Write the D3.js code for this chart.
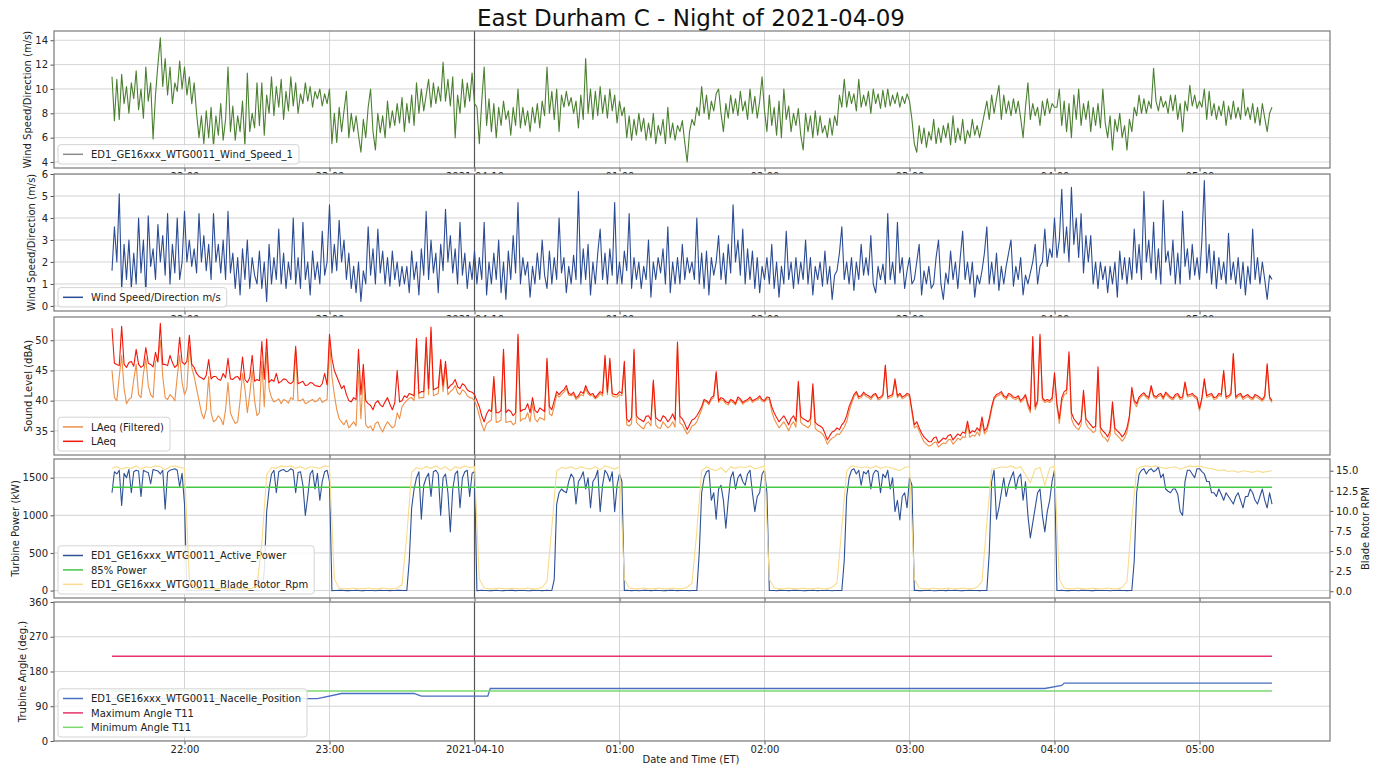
<!DOCTYPE html>
<html><head><meta charset="utf-8">
<script src="https://cdn.jsdelivr.net/npm/d3@7"></script>
<style>body{margin:0;background:#fff}</style>
</head><body>
<svg id="c" width="1380" height="769"></svg>
<script>
const chartTitle = "East Durham C - Night of 2021-04-09";
const startTime = new Date(2021,3,9,21,30);
const xDomain = [new Date(2021,3,9,21,6), new Date(2021,3,10,5,54)];
const xTickTimes = [new Date(2021,3,9,22),new Date(2021,3,9,23),new Date(2021,3,10,0),new Date(2021,3,10,1),new Date(2021,3,10,2),new Date(2021,3,10,3),new Date(2021,3,10,4),new Date(2021,3,10,5)];
const midnight = new Date(2021,3,10,0);

// 1-minute samples from 21:30
const windSpeed1 = [
 11.0,7.4,10.8,7.5,11.2,8.8,10.2,8.0,10.5,9.2,11.5,8.3,10.0,7.6,11.8,9.0,10.5,5.9,9.5,12.0,14.2,10.2,12.5,9.5,11.8,8.8,10.5,9.8,12.3,10.0,11.8,
 9.5,11.0,8.8,10.5,8.0,6.0,7.8,5.5,8.2,6.0,8.5,5.3,7.8,6.2,8.8,5.8,7.5,11.8,6.5,8.6,5.8,7.8,6.5,9.0,5.3,11.3,6.5,8.0,6.8,10.5,
 7.0,10.5,6.2,9.5,8.0,11.0,7.8,10.2,8.5,10.8,7.5,9.8,8.2,11.0,8.6,10.5,8.0,9.6,8.8,10.5,9.0,10.2,8.5,9.8,9.2,10.0,8.6,9.6,8.8,10.0,
 5.5,8.0,5.6,8.5,6.5,8.2,9.8,6.0,8.0,6.5,7.8,6.2,4.8,7.5,6.0,8.5,10.0,6.5,5.0,8.0,6.4,7.8,6.0,9.0,6.8,8.2,7.0,8.8,7.2,9.3,
 6.5,8.8,7.2,9.5,7.0,10.5,8.0,10.0,8.2,9.5,10.8,8.5,10.5,8.8,10.2,9.0,12.2,9.0,10.8,8.6,11.0,6.0,9.5,8.0,10.8,8.5,10.5,9.0,11.3,8.8,
 8.5,5.5,9.0,11.8,7.0,9.2,6.5,8.8,6.0,8.5,7.0,9.0,7.5,8.2,6.2,8.5,7.0,10.0,6.8,8.5,7.0,8.2,6.5,8.5,7.2,8.8,6.8,9.0,7.8,11.8,
 8.0,9.8,7.5,10.0,6.5,9.5,8.5,9.8,8.6,9.3,8.0,9.0,6.8,9.5,7.5,12.5,8.0,10.0,7.5,9.8,7.8,10.2,8.0,9.5,7.6,10.0,8.2,9.5,7.2,9.0,
 7.8,8.5,6.0,7.8,5.8,7.5,6.2,8.0,6.5,7.6,5.8,7.2,6.0,8.0,5.5,7.0,6.2,7.5,5.5,8.5,6.0,7.2,5.8,7.0,6.5,7.4,5.6,4.0,6.5,7.5,
 7.0,8.5,7.8,10.2,8.0,9.5,7.5,9.0,8.2,9.6,10.0,8.0,6.5,8.8,7.6,9.5,8.0,9.2,7.8,9.8,8.2,9.0,7.5,10.0,8.0,9.4,7.6,9.0,11.0,8.2,
 6.5,9.5,7.0,8.5,6.2,9.0,6.0,10.0,7.5,8.6,6.5,8.0,7.0,8.4,6.2,5.0,8.0,6.5,7.8,6.0,8.2,6.2,7.8,6.4,7.0,6.0,7.6,6.2,7.8,7.0,
 9.5,8.5,10.8,8.5,9.8,8.8,9.6,8.2,10.8,8.5,9.5,8.6,9.8,8.0,10.0,8.8,9.6,8.4,9.9,8.5,10.0,8.6,9.5,8.8,9.7,8.5,9.4,8.8,9.6,9.0,
 7.5,5.5,4.8,7.0,5.5,6.8,5.2,6.5,5.8,7.5,5.5,6.8,5.6,7.0,6.0,7.2,5.4,7.8,5.6,6.8,5.8,7.5,5.5,6.6,6.0,7.5,6.2,7.0,6.0,7.0,
 8.0,9.0,7.5,9.5,8.0,9.2,10.3,7.5,9.5,8.0,9.0,7.8,9.2,8.0,9.0,7.6,6.0,8.5,10.5,7.5,8.8,7.8,8.5,7.0,9.0,7.8,9.2,8.0,8.8,8.5,
 8.5,10.0,7.0,9.0,6.5,8.8,6.0,9.5,7.5,10.0,7.0,8.8,7.5,9.0,6.5,8.5,7.0,8.8,6.8,10.0,7.2,6.0,7.8,5.0,7.5,6.5,8.0,6.0,7.0,5.0,
 7.5,6.5,8.5,7.8,9.5,8.0,9.2,8.0,9.0,8.4,11.7,9.0,8.2,9.4,8.5,9.0,8.0,9.5,8.2,9.5,7.5,8.8,6.5,9.0,8.2,10.3,8.6,9.5,8.4,9.0,
 8.5,10.0,7.5,9.8,7.8,8.8,7.5,8.6,7.8,9.0,7.0,8.6,7.5,9.0,7.6,8.5,7.5,10.0,7.8,8.5,7.5,8.8,7.2,8.5,7.0,8.8,7.6,6.5,8.0,8.5];

const windSpeedMet = [
 1.6,3.6,2.0,5.1,0.7,2.8,1.2,3.0,0.8,2.4,1.0,4.0,1.5,3.0,0.5,4.1,1.8,2.6,1.2,3.7,2.0,3.2,1.4,4.2,1.0,2.8,1.5,4.0,1.2,2.0,4.3,
 2.0,3.0,1.8,2.6,1.5,4.2,2.0,3.2,1.6,2.8,1.2,4.2,2.0,2.8,1.5,3.0,1.2,4.3,1.5,2.4,0.8,2.2,0.5,2.6,1.2,3.0,0.8,2.2,1.4,1.0,
 2.5,0.8,2.0,0.2,2.8,1.0,2.2,1.2,3.5,1.0,2.4,0.8,2.0,1.2,4.0,1.0,2.2,0.8,3.8,1.2,2.0,0.5,2.5,1.2,2.0,1.0,3.4,1.4,2.0,4.6,
 1.5,2.8,1.6,3.9,2.0,3.0,1.2,2.4,0.8,1.8,0.6,2.0,0.2,1.6,1.0,3.6,1.4,2.6,1.0,3.5,1.5,2.5,1.0,2.2,0.9,2.5,1.2,2.0,0.9,1.8,
 1.0,1.8,0.6,2.5,1.2,2.0,0.5,2.6,1.4,4.3,1.2,3.0,1.5,2.4,0.6,2.8,1.6,4.4,2.0,3.2,1.5,2.6,1.0,3.8,1.4,2.4,0.8,2.0,1.2,2.5,
 1.0,2.2,1.2,3.8,0.5,2.0,1.0,2.4,1.2,3.0,0.6,2.0,0.3,2.5,1.2,3.2,1.5,4.7,1.0,2.2,1.4,2.0,0.4,1.8,1.0,2.4,1.2,3.0,1.4,0.8,
 2.5,1.0,2.2,1.2,4.0,1.5,2.2,0.6,1.8,1.0,2.3,1.2,5.2,1.0,2.6,1.2,2.8,0.5,2.0,1.0,2.4,3.5,1.2,2.4,1.0,2.6,1.4,4.7,1.0,2.0,
 1.0,2.5,1.6,4.2,0.8,2.2,1.2,2.0,0.8,1.8,1.2,3.0,0.4,2.0,1.2,2.2,1.5,2.6,1.0,3.6,0.6,2.0,1.0,2.2,1.0,2.8,1.2,2.2,1.5,2.0,
 1.2,4.0,1.0,2.4,0.8,2.5,0.5,2.2,1.4,2.0,3.2,1.2,2.4,1.0,2.8,1.5,4.6,2.0,3.0,1.4,3.5,1.0,2.6,1.2,2.5,0.8,2.2,0.6,1.8,1.2,
 2.2,1.0,2.8,0.8,2.0,0.4,1.8,1.0,3.4,1.2,2.0,0.8,2.2,1.0,2.0,1.2,3.0,1.0,2.2,0.5,1.8,1.2,2.0,0.9,2.5,1.0,1.8,0.3,1.4,1.6,
 2.4,3.6,1.2,2.0,1.0,2.2,0.7,2.0,1.2,2.8,1.4,2.2,1.4,3.2,1.0,0.6,1.8,1.2,1.9,1.0,4.2,1.2,2.0,1.0,3.8,1.5,2.2,0.8,1.6,2.2,
 1.0,1.2,2.0,2.8,0.5,1.6,1.0,1.8,0.8,1.0,2.2,3.0,1.0,0.3,1.5,1.0,2.5,1.2,2.0,0.8,2.2,3.4,1.2,2.0,1.0,2.0,0.4,1.4,1.0,1.6,
 2.4,3.6,1.0,2.0,1.0,2.4,0.7,1.8,1.0,1.8,2.4,3.0,0.9,1.8,1.2,2.2,0.5,1.4,1.0,1.5,2.0,2.8,1.0,1.8,2.0,3.5,1.8,2.6,2.2,4.0,
 2.2,3.0,5.3,2.4,3.6,2.0,5.4,2.8,4.0,2.2,4.2,1.5,3.2,2.0,3.2,1.0,2.0,0.8,2.0,1.2,1.8,0.6,1.8,1.0,2.0,0.4,2.5,1.2,2.2,1.0,
 2.2,1.2,3.5,1.5,2.8,1.2,5.2,2.0,3.0,1.5,3.8,1.2,2.6,1.0,4.8,2.0,2.5,1.4,3.0,1.0,2.4,1.0,4.3,1.8,2.6,1.2,2.8,1.4,2.2,1.2,
 3.0,5.7,1.5,2.8,1.0,2.5,0.8,2.2,1.2,2.0,1.0,3.3,1.2,2.0,1.0,2.2,0.8,2.0,0.5,1.8,1.0,3.5,1.2,2.2,1.0,2.0,1.2,0.3,1.4,1.2];

const laeqFiltered = [
 45.0,40.5,40.0,44.0,47.5,42.0,39.5,40.2,40.5,43.5,46.0,41.0,40.5,44.5,47.0,42.5,41.0,40.5,46.5,47.0,50.0,44.0,40.5,40.2,41.0,40.6,40.0,44.0,47.5,43.0,41.0,
 42.0,49.0,45.5,44.0,42.0,40.0,38.0,37.0,38.5,44.0,38.0,36.5,36.8,37.5,37.0,36.0,38.5,43.0,38.0,37.0,36.2,36.5,40.0,44.5,42.0,38.0,41.0,45.0,40.0,37.5,
 38.0,46.5,39.0,48.0,42.0,40.5,39.8,40.0,40.3,39.5,40.2,40.0,39.6,40.5,40.2,48.5,40.0,40.0,40.3,39.5,39.7,40.0,40.2,39.8,40.0,40.5,39.7,40.0,40.2,50.0,
 44.0,41.0,38.5,37.0,36.5,36.0,36.8,35.5,36.0,36.5,35.8,45.0,37.0,44.5,36.0,35.5,35.8,35.0,36.2,36.5,35.5,34.8,35.8,36.5,36.0,35.5,35.8,38.0,37.0,39.0,
 39.6,40.0,40.4,40.5,40.0,49.0,40.4,40.5,40.5,49.5,41.0,51.5,40.8,41.0,41.2,46.0,41.5,45.5,41.0,41.5,41.8,42.5,41.3,41.0,41.8,41.5,40.8,40.5,40.4,40.0,
 39.0,37.5,36.0,35.0,36.2,36.5,36.8,43.5,36.4,36.5,36.8,48.0,36.4,36.5,36.6,36.0,36.3,50.5,36.6,37.0,37.0,38.0,36.5,39.5,37.0,36.5,37.2,37.0,36.8,46.5,
 37.8,37.5,39.0,41.0,40.6,41.0,41.4,42.0,40.9,40.8,41.0,40.2,40.5,41.0,40.8,42.0,41.1,40.8,40.8,40.3,40.6,41.2,40.8,47.0,41.0,46.5,40.8,40.6,40.6,41.0,
 40.8,46.0,36.0,35.8,36.2,48.0,36.4,36.0,35.6,35.3,36.2,36.5,35.8,43.0,36.0,35.5,35.4,36.5,36.0,35.5,35.8,36.5,35.6,49.2,36.3,36.0,35.2,34.5,35.0,35.8,
 36.0,36.5,37.5,38.5,39.9,39.8,39.3,40.2,40.5,44.5,39.7,40.2,40.0,39.5,39.3,40.0,39.7,39.3,40.3,40.0,39.4,39.8,39.9,40.3,39.7,40.0,40.1,40.5,39.9,39.8,
 40.3,40.2,38.2,37.0,36.2,35.5,36.0,36.5,35.8,35.0,36.0,36.5,35.6,42.5,36.4,36.0,35.8,35.5,36.0,42.0,35.4,35.0,34.8,34.5,33.8,32.8,33.4,33.8,34.0,34.5,
 34.4,35.0,35.6,36.5,38.2,39.5,40.6,41.2,40.3,40.5,41.1,40.7,40.5,40.2,40.7,41.0,40.1,40.3,40.7,45.5,40.3,40.5,40.7,43.2,40.5,41.0,40.3,40.5,40.9,40.7,
 38.0,35.5,35.8,35.0,34.0,33.2,32.8,32.5,32.6,33.0,33.2,32.3,32.7,33.0,32.9,33.5,33.6,32.8,33.2,33.8,33.5,34.0,33.9,36.0,33.9,34.3,34.1,34.8,34.2,36.5,
 34.5,35.0,36.5,38.5,40.2,40.7,40.9,41.2,40.5,40.2,40.9,40.7,40.3,40.2,40.5,39.7,40.1,40.7,39.0,38.0,50.2,38.5,39.6,50.5,40.1,39.7,39.9,39.7,40.0,44.0,
 39.0,36.2,39.8,41.0,41.2,47.5,37.0,36.0,35.5,35.2,36.0,41.0,36.2,35.5,35.2,34.7,35.0,45.0,34.8,34.0,33.8,33.2,34.2,39.0,34.6,34.2,33.8,33.3,33.8,34.8,
 37.0,41.5,39.6,39.0,40.3,40.7,41.0,40.5,40.2,42.2,40.6,40.3,40.7,40.9,40.2,41.1,40.7,40.3,40.1,40.7,40.9,40.2,40.3,42.8,40.6,40.7,40.9,40.5,40.2,38.3,
 40.2,43.3,40.5,40.7,40.9,40.2,40.3,40.9,40.7,44.7,40.3,40.5,40.9,47.5,40.3,40.7,40.9,40.2,40.5,40.7,40.3,40.1,40.7,40.5,40.2,39.9,40.5,45.8,40.3,39.7];

const laeq = [
 52.0,46.2,46.0,45.8,52.3,46.0,45.5,46.3,46.5,45.7,48.5,46.0,45.5,45.8,48.8,46.2,46.0,45.6,48.0,46.4,52.8,46.0,46.0,45.8,47.5,46.3,45.5,45.9,50.5,46.4,46.0,
 46.5,50.8,46.0,45.5,44.5,44.0,43.8,43.5,44.2,46.8,43.6,44.0,44.0,43.5,43.4,44.5,43.8,47.0,43.6,43.5,43.9,44.0,43.4,47.2,43.5,43.0,43.8,47.5,43.2,43.5,
 43.3,49.8,43.5,50.2,43.0,43.5,43.2,44.5,42.9,43.2,43.6,43.5,43.0,42.8,43.2,49.0,42.8,43.0,43.2,42.5,42.6,43.0,42.9,42.5,42.4,42.3,42.8,44.5,42.6,51.0,
 47.0,45.0,44.0,43.0,42.0,42.5,41.0,40.0,39.8,40.5,40.2,48.5,41.0,46.0,40.0,39.5,39.2,38.5,39.6,40.0,39.3,39.0,39.8,40.5,39.4,38.5,39.6,45.0,39.8,40.0,
 40.8,40.5,41.2,41.0,40.8,50.3,41.2,41.5,41.5,50.5,42.0,52.2,41.8,42.0,42.2,46.8,42.5,46.5,42.0,42.5,42.8,43.5,42.3,42.0,42.8,42.5,41.8,41.5,41.4,41.0,
 40.0,39.0,37.5,36.5,37.8,38.5,38.2,44.0,38.0,38.0,38.4,48.5,38.0,38.5,38.2,37.5,38.0,51.0,38.2,38.5,38.6,39.5,38.0,40.5,38.4,38.0,38.8,38.5,38.2,47.0,
 39.0,38.5,40.0,41.5,41.0,41.5,41.8,42.5,41.2,41.0,41.4,40.5,40.8,41.5,41.2,42.5,41.5,41.0,41.2,40.5,41.0,41.5,41.2,47.5,41.4,47.0,41.2,41.0,41.0,41.5,
 41.2,46.5,37.0,36.5,37.2,48.5,37.5,37.0,36.8,36.5,37.4,37.5,36.8,43.4,37.2,36.8,36.6,37.5,37.2,36.5,37.0,37.8,36.8,49.7,37.4,37.0,36.2,35.2,36.0,36.8,
 37.0,37.5,38.2,39.0,40.2,40.0,39.6,40.5,40.8,44.8,40.0,40.5,40.3,39.8,39.6,40.2,40.0,39.5,40.6,40.3,39.7,40.0,40.2,40.6,40.0,40.2,40.4,40.8,40.2,40.0,
 40.6,40.5,39.0,38.0,37.2,36.5,37.0,37.5,36.8,36.0,37.0,37.5,36.6,43.2,37.4,37.0,36.8,36.5,37.0,42.8,36.4,36.0,35.8,35.5,34.6,33.5,34.2,34.8,35.0,35.5,
 35.2,36.0,36.5,37.5,39.0,40.0,41.0,41.5,40.6,40.8,41.4,41.0,40.8,40.5,41.0,41.2,40.4,40.6,41.0,45.9,40.6,40.8,41.0,43.6,40.8,41.2,40.6,40.8,41.2,41.0,
 38.5,36.0,36.5,35.5,34.6,34.0,33.6,33.2,33.2,33.8,34.0,33.0,33.4,33.8,33.6,34.2,34.4,33.5,34.0,34.5,34.2,34.8,34.6,36.6,34.6,35.0,34.8,35.5,35.0,37.3,
 35.0,35.5,37.0,39.0,40.5,41.0,41.2,41.5,40.8,40.5,41.2,41.0,40.6,40.5,40.8,40.0,40.4,41.0,39.5,38.5,50.6,39.0,40.0,51.0,40.5,40.0,40.2,40.0,40.4,44.6,
 39.5,37.0,40.5,41.5,41.8,48.1,38.0,37.0,36.5,36.0,36.8,41.7,37.0,36.5,36.0,35.5,35.8,45.6,35.6,35.0,34.6,34.0,35.0,39.8,35.4,35.0,34.6,34.0,34.5,35.5,
 37.5,42.2,40.0,39.5,40.6,41.0,41.3,40.8,40.5,42.5,40.9,40.6,41.0,41.2,40.5,41.4,41.0,40.6,40.4,41.0,41.2,40.5,40.6,43.1,40.9,41.0,41.2,40.8,40.5,38.7,
 40.5,43.6,40.8,41.0,41.2,40.5,40.6,41.2,41.0,45.0,40.6,40.8,41.2,47.8,40.6,41.0,41.2,40.5,40.8,41.0,40.6,40.4,41.0,40.8,40.5,40.2,40.8,46.1,40.6,40.0];

const activePower = [
 1300,1580,1550,1600,1130,1560,1500,1610,1300,1580,1600,1590,1250,1600,1580,1570,1420,1610,1600,1590,1550,1600,1080,1570,1600,1610,1620,1600,1380,1560,1150,
 0,2,3,-1,-2,1,1,0,-3,2,2,1,0,-1,-2,0,3,1,1,-1,-1,0,2,1,-3,0,0,2,2,-1,0,1,
 250,1050,1350,1550,1600,1300,1580,1600,1610,1580,1590,1620,1600,1300,1570,1580,1400,1000,1250,1550,1600,1350,1560,1200,1450,1580,1600,1450,
 -2,0,1,2,3,0,-1,-1,0,1,2,0,-3,-1,1,0,0,1,-2,0,2,1,1,0,-1,1,0,2,3,1,0,0,
 400,1100,1350,1500,1580,950,1400,1500,1560,1250,1580,1600,1550,1000,1500,1550,1300,780,1350,1550,1590,1100,1500,1580,1600,1250,1560,1580,
 -1,0,2,1,0,-3,-1,1,2,0,-2,-1,0,0,3,2,-1,0,1,1,0,-2,-1,2,0,0,1,-1,0,2,0,1,150,
 1150,1300,1350,1320,1300,1450,1550,1500,1150,1450,1500,1580,1350,1500,1100,1450,1500,1600,1050,1400,1600,1550,1450,1580,1050,1400,1550,1450,
 0,2,1,-1,1,0,-2,1,3,2,0,-1,0,2,0,1,-3,-1,1,2,2,0,-1,1,0,0,1,-2,0,1,0,
 500,1300,1500,1580,1600,1200,1300,950,1350,1400,1200,830,1200,1500,1580,1350,1500,1550,1450,1400,1550,1600,1300,1050,1250,1300,1550,1600,1300,
 0,1,0,-2,2,3,1,0,-1,0,2,2,0,0,-3,-1,1,1,2,0,-1,1,0,0,2,1,-2,0,0,1,0,
 400,1250,1500,1600,1620,1550,1600,1400,1580,1550,1600,1350,1550,1600,1580,1300,1550,1500,1600,1350,1500,1050,1200,940,1250,1300,1100,1500,1400,
 0,2,-1,-1,0,1,3,0,-2,-2,1,0,0,-1,2,1,0,2,0,-3,-1,1,1,2,0,0,1,-1,0,0,0,
 500,1450,1600,950,1100,1300,1500,1250,1400,1500,1580,1350,1500,1550,1200,1450,1000,700,900,1100,1300,1350,1000,780,1050,1200,1450,1600,
 0,0,2,1,-1,-1,1,0,0,-2,3,2,0,0,-1,-1,2,1,0,0,1,1,-3,0,0,0,2,1,0,-1,0,0,
 400,1300,1550,1600,1620,1550,1600,1620,1580,1600,1640,1500,1550,1350,1320,1300,1350,1350,1280,1050,
 1000,1450,1600,1600,1550,1500,1620,1620,1580,1550,1450,1450,1300,1300,1250,1350,1280,1200,1300,1250,
 1200,1150,1250,1300,1200,1100,1250,1250,1350,1300,1200,1150,1250,1350,1200,1100,1300,1150];

// 2-minute samples from 21:30
const bladeRpm = [15.3,
 15.5,15.2,15.4,15.3,15.6,15.2,15.5,15.4,15.6,15.5,15.1,15.5,15.6,15.4,15.3,
 1.5,0.4,0.3,0.3,0.4,0.3,0.3,0.4,0.3,0.3,0.4,0.3,0.3,0.4,0.6,
 6.0,14.5,15.4,15.3,15.6,15.5,15.6,15.3,15.5,15.2,15.5,15.4,15.3,15.6,15.5,
 1.5,0.4,0.3,0.3,0.4,0.3,0.3,0.4,0.3,0.3,0.4,0.3,0.3,0.4,0.8,
 7.0,14.8,15.4,15.2,15.5,15.3,15.6,15.2,15.5,15.0,15.5,15.3,15.6,15.4,15.5,
 1.5,0.4,0.3,0.3,0.4,0.3,0.3,0.4,0.3,0.3,0.4,0.3,0.3,0.5,1.2,
 8.0,15.0,15.4,15.3,15.5,15.2,15.5,15.3,15.2,15.5,15.1,15.6,15.4,15.2,15.5,
 1.5,0.4,0.3,0.3,0.4,0.3,0.3,0.4,0.3,0.3,0.4,0.3,0.3,0.5,1.0,
 7.5,15.0,15.5,15.2,15.0,15.4,14.8,15.5,15.3,15.5,15.4,15.6,15.2,15.4,15.6,
 1.5,0.4,0.3,0.3,0.4,0.3,0.3,0.4,0.3,0.3,0.4,0.3,0.3,0.5,1.0,
 8.0,15.0,15.6,15.5,15.4,15.5,15.3,15.6,15.3,15.5,15.4,15.2,15.0,15.4,15.5,
 1.5,0.4,0.3,0.3,0.4,0.3,0.3,0.4,0.3,0.3,0.4,0.3,0.3,0.5,1.2,
 8.5,15.2,15.3,15.5,15.4,15.6,15.3,15.5,14.5,13.5,15.2,15.4,13.2,15.3,15.6,
 1.5,0.4,0.3,0.3,0.4,0.3,0.3,0.4,0.3,0.3,0.4,0.3,0.3,0.5,1.2,
 9.0,15.2,15.5,15.6,15.5,15.6,15.4,15.3,15.4,15.5,15.2,15.4,15.6,15.5,15.6,
 15.4,15.3,15.2,15.0,15.1,14.9,15.0,14.8,15.0,14.9,14.8,15.0,14.8,14.9,15.0];

const power85 = 1373;
const nacelleMinutes = [0, 85, 95, 125, 128, 155.5, 156.5, 386, 393, 394, 480];
const nacelleDegrees = [110, 110, 123, 123, 116, 116, 136, 136, 144, 150, 150];
const maxAngleT11 = 219.5;
const minAngleT11 = 129.5;

// ---------------------------------------------------------------
const W = 1380, H = 769, L = 54, R = 1330;
const FONT = "DejaVu Sans, Verdana, sans-serif";
const svg = d3.select("#c");
const defs = svg.append("defs");
svg.append("rect").attr("width", W).attr("height", H).attr("fill", "#fff");

const timeAt = (i, step) => new Date(startTime.getTime() + i * step * 60000);
const endTime = new Date(2021,3,10,5,30);
const x = d3.scaleTime().domain(xDomain).range([L, R]);
const fmtX = d => d.getHours() === 0 ? "2021-04-10" : d3.timeFormat("%H:%M")(d);
const fmtY = d3.format("d");

svg.append("text").attr("x", 691).attr("y", 26).attr("text-anchor", "middle")
  .attr("font-family", FONT).attr("font-size", 23).attr("fill", "#111").text(chartTitle);

const panels = [
  {top: 31, bottom: 168, domain: [3.51, 14.76], ticks: [4,6,8,10,12,14],
   label: "Wind Speed/Direction (m/s)", labelX: 31,
   series: [{values: windSpeed1, step: 1, color: "#4b8031"}],
   legend: [{text: "ED1_GE16xxx_WTG0011_Wind_Speed_1", color: "#8c8c8c"}]},
  {top: 174, bottom: 311, domain: [-0.23, 6.0], ticks: [0,1,2,3,4,5,6],
   label: "Wind Speed/Direction (m/s)", labelX: 35,
   series: [{values: windSpeedMet, step: 1, color: "#2b4c94"}],
   legend: [{text: "Wind Speed/Direction m/s", color: "#2b4c94"}]},
  {top: 317, bottom: 455, domain: [31, 53.85], ticks: [35,40,45,50],
   label: "Sound Level (dBA)", labelX: 31.5,
   series: [{values: laeqFiltered, step: 1, color: "#ef9047"}, {values: laeq, step: 1, color: "#f2180c"}],
   legend: [{text: "LAeq (Filtered)", color: "#ef9047"}, {text: "LAeq", color: "#f2180c"}]},
  {top: 459, bottom: 598, domain: [-99, 1749], ticks: [0,500,1000,1500],
   label: "Turbine Power (kW)", labelX: 19,
   series: [{values: activePower, step: 1, color: "#2e5196"}],
   hline: {value: power85, color: "#45c845"},
   right: {domain: [-0.84, 16.46], ticks: [0,2.5,5,7.5,10,12.5,15], values: bladeRpm, step: 2, color: "#f8dc8c", label: "Blade Rotor RPM", labelX: 1369},
   legend: [{text: "ED1_GE16xxx_WTG0011_Active_Power", color: "#2e5196"}, {text: "85% Power", color: "#45c845"}, {text: "ED1_GE16xxx_WTG0011_Blade_Rotor_Rpm", color: "#f8dc8c"}]},
  {top: 602, bottom: 741, domain: [0, 360], ticks: [0,90,180,270,360],
   label: "Trubine Angle (deg.)", labelX: 25.5,
   steps: {minutes: nacelleMinutes, values: nacelleDegrees, color: "#4a6fc0"},
   hlines: [{value: maxAngleT11, color: "#e8336a"}, {value: minAngleT11, color: "#7ad86e"}],
   legend: [{text: "ED1_GE16xxx_WTG0011_Nacelle_Position", color: "#4a6fc0"}, {text: "Maximum Angle T11", color: "#e8336a"}, {text: "Minimum Angle T11", color: "#7ad86e"}]}
];

function styleAxis(g) {
  g.attr("font-family", FONT).attr("font-size", 10);
  g.select(".domain").remove();
  g.selectAll(".tick line").attr("stroke", "#555");
  g.selectAll(".tick text").attr("fill", "#222");
}

panels.forEach((p, pi) => {
  const g = svg.append("g");
  const y = d3.scaleLinear().domain(p.domain).range([p.bottom, p.top]);
  const clipId = "clip" + pi;
  defs.append("clipPath").attr("id", clipId).append("rect")
    .attr("x", L).attr("y", p.top).attr("width", R - L).attr("height", p.bottom - p.top);

  g.append("rect").attr("x", L).attr("y", p.top).attr("width", R - L).attr("height", p.bottom - p.top).attr("fill", "#fff");

  const grid = g.append("g").attr("clip-path", `url(#${clipId})`);
  grid.selectAll(".gx").data(xTickTimes).join("line")
    .attr("x1", d => x(d)).attr("x2", d => x(d)).attr("y1", p.top).attr("y2", p.bottom)
    .attr("stroke", "#cfcfcf").attr("stroke-width", 0.9);
  grid.selectAll(".gy").data(p.ticks).join("line")
    .attr("x1", L).attr("x2", R).attr("y1", d => y(d)).attr("y2", d => y(d))
    .attr("stroke", "#cfcfcf").attr("stroke-width", 0.9);
  grid.append("line").attr("x1", x(midnight)).attr("x2", x(midnight)).attr("y1", p.top).attr("y2", p.bottom)
    .attr("stroke", "#555").attr("stroke-width", 1.2);

  const plot = g.append("g").attr("clip-path", `url(#${clipId})`);
  (p.series || []).forEach(s => {
    const line = d3.line().x((d, i) => x(timeAt(i, s.step))).y(d => y(d));
    plot.append("path").datum(s.values).attr("d", line).attr("fill", "none")
      .attr("stroke", s.color).attr("stroke-width", 1.1).attr("stroke-linejoin", "round");
  });
  if (p.hline) {
    plot.append("line").attr("x1", x(startTime)).attr("x2", x(endTime))
      .attr("y1", y(p.hline.value)).attr("y2", y(p.hline.value))
      .attr("stroke", p.hline.color).attr("stroke-width", 1.5);
  }
  if (p.steps) {
    const pts = p.steps.minutes.map((m, i) => [new Date(startTime.getTime() + m * 60000), p.steps.values[i]]);
    plot.append("path").datum(pts).attr("d", d3.line().x(d => x(d[0])).y(d => y(d[1])))
      .attr("fill", "none").attr("stroke", p.steps.color).attr("stroke-width", 1.3);
  }
  (p.hlines || []).forEach(h => {
    plot.append("line").attr("x1", x(startTime)).attr("x2", x(endTime))
      .attr("y1", y(h.value)).attr("y2", y(h.value))
      .attr("stroke", h.color).attr("stroke-width", 1.6);
  });

  const ya = g.append("g").attr("transform", `translate(${L},0)`)
    .call(d3.axisLeft(y).tickValues(p.ticks).tickFormat(fmtY).tickSize(3.5).tickPadding(2.5));
  styleAxis(ya);
  const xa = g.append("g").attr("transform", `translate(0,${p.bottom})`)
    .call(d3.axisBottom(x).tickValues(xTickTimes).tickFormat(fmtX).tickSize(3.5).tickPadding(1.5));
  styleAxis(xa);

  g.append("text").attr("transform", `translate(${p.labelX},${(p.top + p.bottom) / 2}) rotate(-90)`)
    .attr("text-anchor", "middle").attr("font-family", FONT).attr("font-size", 10).attr("fill", "#222").text(p.label);

  const rows = p.legend.length, rowH = 14.4;
  const bh = rows * rowH + 5;
  const by = p.bottom - 4 - bh, bx = 58;
  const lg = g.append("g");
  const box = lg.append("rect").attr("x", bx).attr("y", by).attr("height", bh).attr("rx", 3)
    .attr("fill", "#fff").attr("fill-opacity", 0.85).attr("stroke", "#d4d4d4").attr("stroke-width", 1);
  let maxW = 0;
  p.legend.forEach((e, i) => {
    const cy = by + 2.5 + rowH * (i + 0.5);
    lg.append("line").attr("x1", bx + 5).attr("x2", bx + 25).attr("y1", cy).attr("y2", cy)
      .attr("stroke", e.color).attr("stroke-width", 1.5);
    const t = lg.append("text").attr("x", bx + 33).attr("y", cy + 3.6).attr("font-family", FONT)
      .attr("font-size", 10).attr("fill", "#222").text(e.text);
    maxW = Math.max(maxW, t.node().getComputedTextLength());
  });
  box.attr("width", maxW + 33 + 6);

  if (p.right) {
    const y2 = d3.scaleLinear().domain(p.right.domain).range([p.bottom, p.top]);
    const line2 = d3.line().x((d, i) => x(timeAt(i, p.right.step))).y(d => y2(d));
    g.append("g").attr("clip-path", `url(#${clipId})`).append("path").datum(p.right.values)
      .attr("d", line2).attr("fill", "none").attr("stroke", p.right.color).attr("stroke-width", 1.1);
    const ra = g.append("g").attr("transform", `translate(${R},0)`)
      .call(d3.axisRight(y2).tickValues(p.right.ticks).tickFormat(d3.format(".1f")).tickSize(3.5).tickPadding(2.5));
    styleAxis(ra);
    g.append("text").attr("transform", `translate(${p.right.labelX},${(p.top + p.bottom) / 2}) rotate(-90)`)
      .attr("text-anchor", "middle").attr("font-family", FONT).attr("font-size", 10).attr("fill", "#222").text(p.right.label);
  }

  g.append("rect").attr("x", L).attr("y", p.top).attr("width", R - L).attr("height", p.bottom - p.top)
    .attr("fill", "none").attr("stroke", "#7a7a7a").attr("stroke-width", 1.2);
});

svg.append("text").attr("x", 691).attr("y", 763).attr("text-anchor", "middle")
  .attr("font-family", FONT).attr("font-size", 10).attr("fill", "#222").text("Date and Time (ET)");
</script>
</body></html>
